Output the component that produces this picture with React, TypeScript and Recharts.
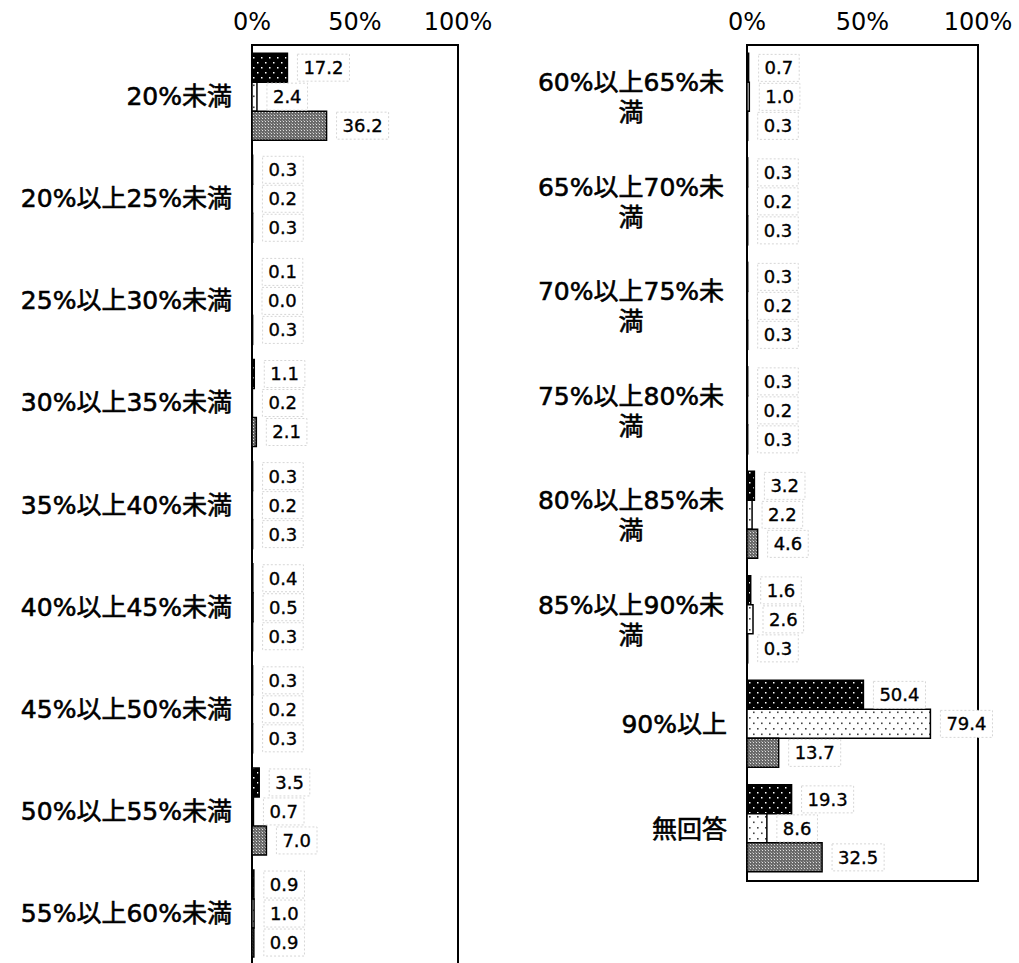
import React from 'react';
import { BarChart, Bar, XAxis, YAxis, LabelList, ReferenceArea } from 'recharts';

const leftCats = ['20%未満', '20%以上25%未満', '25%以上30%未満', '30%以上35%未満', '35%以上40%未満', '40%以上45%未満', '45%以上50%未満', '50%以上55%未満', '55%以上60%未満'];
const leftA = [17.2, 0.3, 0.1, 1.1, 0.3, 0.4, 0.3, 3.5, 0.9];
const leftB = [2.4, 0.2, 0.0, 0.2, 0.2, 0.5, 0.2, 0.7, 1.0];
const leftC = [36.2, 0.3, 0.3, 2.1, 0.3, 0.3, 0.3, 7.0, 0.9];

const rightCats = ['60%以上65%未満', '65%以上70%未満', '70%以上75%未満', '75%以上80%未満', '80%以上85%未満', '85%以上90%未満', '90%以上', '無回答'];
const rightA = [0.7, 0.3, 0.3, 0.3, 3.2, 1.6, 50.4, 19.3];
const rightB = [1.0, 0.2, 0.2, 0.2, 2.2, 2.6, 79.4, 8.6];
const rightC = [0.3, 0.3, 0.3, 0.3, 4.6, 0.3, 13.7, 32.5];

const xTicks = [0, 50, 100];

const leftData = leftCats.map((cat, i) => ({ cat, a: leftA[i], b: leftB[i], c: leftC[i] }));
const rightData = rightCats.map((cat, i) => ({ cat, a: rightA[i], b: rightB[i], c: rightC[i] }));

const CAT_FONT = "'DejaVu Sans', 'Noto Sans CJK JP', sans-serif";
const NUM_FONT = "'DejaVu Sans', sans-serif";

const ValueLabel = (props: any) => {
  const { x, y, width, height, value } = props;
  const txt = Number(value).toFixed(1);
  const bx = Number(x) + Number(width) + 10;
  let tw = 0;
  for (const ch of txt) tw += ch === '.' ? 5.7 : 11.45;
  return (
    <g>
      <rect x={bx} y={Number(y) + 1} width={tw + 12} height={Number(height) - 2} fill="#fff" stroke="#d6d6d6" strokeDasharray="2 2" strokeWidth={1} />
      <text x={bx + 6} y={Number(y) + Number(height) / 2} dy="0.36em" fontSize={18} fontFamily={NUM_FONT} fill="#000" stroke="#000" strokeWidth={0.35}>{txt}</text>
    </g>
  );
};

const makeTick = (maxChars: number, centerOffset: number) => (props: any) => {
  const { x, y, payload } = props;
  const s: string = String(payload.value);
  const lines: string[] = [];
  for (let i = 0; i < s.length; i += maxChars) lines.push(s.slice(i, i + maxChars));
  const common = { fontSize: 25, fontFamily: CAT_FONT, fill: '#000', stroke: '#000', strokeWidth: 0.6 };
  if (lines.length === 1) {
    return <text x={x} y={y} dy="0.36em" textAnchor="end" {...common}>{s}</text>;
  }
  return (
    <text x={x - centerOffset} y={y} textAnchor="middle" {...common}>
      {lines.map((ln, i) => (
        <tspan key={i} x={x - centerOffset} dy={i === 0 ? '-0.25em' : 30}>{ln}</tspan>
      ))}
    </text>
  );
};

const pct = (v: number) => `${v}%`;

function Panel({ data, width, height, margin, yWidth, tickMaxChars }: any) {
  return (
    <BarChart width={width} height={height} data={data} layout="vertical" margin={margin} barCategoryGap="8%" barGap={0}>
      <XAxis type="number" domain={[0, 100]} ticks={xTicks} orientation="top" height={45} axisLine={false} tickLine={false} tickSize={0} tickMargin={15} tickFormatter={pct} tick={{ fontSize: 24, fontFamily: NUM_FONT, fill: '#000' }} interval={0} />
      <YAxis type="category" dataKey="cat" width={yWidth} axisLine={false} tickLine={false} tickSize={0} tickMargin={20} tick={makeTick(tickMaxChars, 96)} interval={0} />
      <ReferenceArea x1={0} x2={100} fill="none" stroke="#000" strokeWidth={2} ifOverflow="visible" />
      <Bar dataKey="a" fill="url(#patA)" stroke="#000" strokeWidth={1.5} minPointSize={0.01} isAnimationActive={false}>
        <LabelList dataKey="a" content={ValueLabel} />
      </Bar>
      <Bar dataKey="b" fill="url(#patB)" stroke="#000" strokeWidth={1.5} minPointSize={0.01} isAnimationActive={false}>
        <LabelList dataKey="b" content={ValueLabel} />
      </Bar>
      <Bar dataKey="c" fill="url(#patC)" stroke="#000" strokeWidth={1.5} minPointSize={0.01} isAnimationActive={false}>
        <LabelList dataKey="c" content={ValueLabel} />
      </Bar>
    </BarChart>
  );
}

export default function App() {
  return (
    <div style={{ position: 'absolute', left: 0, top: 0, width: 1019, height: 963, overflow: 'hidden', background: '#fff' }}>
      <svg width={0} height={0} style={{ position: 'absolute' }}>
        <defs>
          <pattern id="patA" width={8} height={10} patternUnits="userSpaceOnUse">
            <rect width={8} height={10} fill="#000" />
            <rect x={1} y={2} width={1.5} height={1.5} fill="#fff" />
            <rect x={5} y={7} width={1.5} height={1.5} fill="#fff" />
          </pattern>
          <pattern id="patB" width={8} height={11} patternUnits="userSpaceOnUse">
            <rect width={8} height={11} fill="#fff" />
            <rect x={1} y={2} width={1.6} height={1.6} fill="#444" />
            <rect x={5} y={7.5} width={1.6} height={1.6} fill="#444" />
          </pattern>
          <pattern id="patC" width={3} height={3} patternUnits="userSpaceOnUse">
            <rect width={3} height={3} fill="#6a6a6a" />
            <rect x={1} y={1} width={1} height={1} fill="#e0e0e0" />
            <rect x={0} y={0} width={1} height={1} fill="#9a9a9a" />
          </pattern>
        </defs>
      </svg>
      <div style={{ position: 'absolute', left: 0, top: 0 }}>
        <Panel data={leftData} width={500} height={970} margin={{ top: 0, right: 42, bottom: 6, left: 0 }} yWidth={252} tickMaxChars={20} />
      </div>
      <div style={{ position: 'absolute', left: 500, top: 0 }}>
        <Panel data={rightData} width={519} height={890} margin={{ top: 0, right: 41, bottom: 9, left: 0 }} yWidth={247} tickMaxChars={9} />
      </div>
    </div>
  );
}
